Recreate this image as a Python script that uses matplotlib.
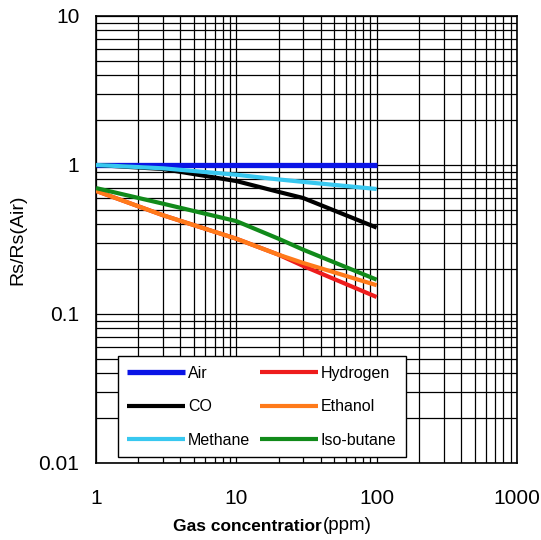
import matplotlib.pyplot as plt
from matplotlib.ticker import FixedLocator, FixedFormatter, LogLocator, NullFormatter

# ---- DATA ----
conc = [1, 3, 10, 20, 30, 100]
air = [1.0, 1.0, 1.0, 1.0, 1.0, 1.0]
co = [1.0, 0.94, 0.78, 0.66, 0.6, 0.38]
methane = [1.0, 0.95, 0.86, 0.8, 0.77, 0.69]
hydrogen = [0.67, 0.46, 0.32, 0.25, 0.21, 0.13]
ethanol = [0.67, 0.46, 0.32, 0.25, 0.22, 0.156]
isobutane = [0.7, 0.55, 0.42, 0.32, 0.27, 0.17]

series = [
    ("Air", air, "#0a14e6", 3.8),
    ("Hydrogen", hydrogen, "#ee1c1c", 3.0),
    ("CO", co, "#000000", 3.0),
    ("Ethanol", ethanol, "#ff7a1a", 3.0),
    ("Methane", methane, "#38c8f0", 3.0),
    ("Iso-butane", isobutane, "#118a1a", 3.0),
]

xticks = [1, 10, 100, 1000]
xtick_labels = ["1", "10", "100", "1000"]
yticks = [0.01, 0.1, 1, 10]
ytick_labels = ["0.01", "0.1", "1", "10"]

# ---- PLOT ----
plt.rcParams["font.family"] = ["Liberation Sans", "DejaVu Sans"]
fig = plt.figure(figsize=(5.41, 5.40), dpi=100)
ax = fig.add_axes([0.1775, 0.1426, 0.778, 0.8278])

ax.set_xscale("log")
ax.set_yscale("log")
ax.set_xlim(1, 1000)
ax.set_ylim(0.01, 10)

# draw in legend order (column-wise fill)
order = [0, 2, 4, 1, 3, 5]
for i in order:
    name, vals, color, lw = series[i]
    ax.plot(conc, vals, color=color, lw=lw, label=name, solid_capstyle="butt", zorder=3)

ax.xaxis.set_major_locator(FixedLocator(xticks))
ax.xaxis.set_major_formatter(FixedFormatter(xtick_labels))
ax.yaxis.set_major_locator(FixedLocator(yticks))
ax.yaxis.set_major_formatter(FixedFormatter(ytick_labels))
ax.xaxis.set_minor_locator(LogLocator(base=10, subs=range(2, 10)))
ax.yaxis.set_minor_locator(LogLocator(base=10, subs=range(2, 10)))
ax.xaxis.set_minor_formatter(NullFormatter())
ax.yaxis.set_minor_formatter(NullFormatter())
ax.grid(True, which="both", color="black", linewidth=0.9)
ax.tick_params(which="both", length=0)
ax.tick_params(axis="x", pad=19, labelsize=15)
ax.tick_params(axis="y", pad=12, labelsize=15)
for sp in ax.spines.values():
    sp.set_linewidth(1.2)

ax.set_ylabel("Rs/Rs(Air)", fontsize=14, labelpad=9)
fig.text(0.595, 0.012, "Gas concentratior", fontsize=12.5, fontweight="bold", ha="right", va="bottom")
fig.text(0.597, 0.012, "(ppm)", fontsize=13.5, ha="left", va="bottom")

leg = ax.legend(ncol=2, loc="lower left", bbox_to_anchor=(0.052, 0.013),
                fontsize=11.5, frameon=True, fancybox=False, framealpha=1,
                edgecolor="black", handlelength=3.6, handletextpad=0.2,
                columnspacing=0.6, labelspacing=1.15, borderpad=0.6,
                borderaxespad=0)
leg.get_frame().set_linewidth(1.0)
leg.set_zorder(5)

fig.savefig("out.png", dpi=100)
